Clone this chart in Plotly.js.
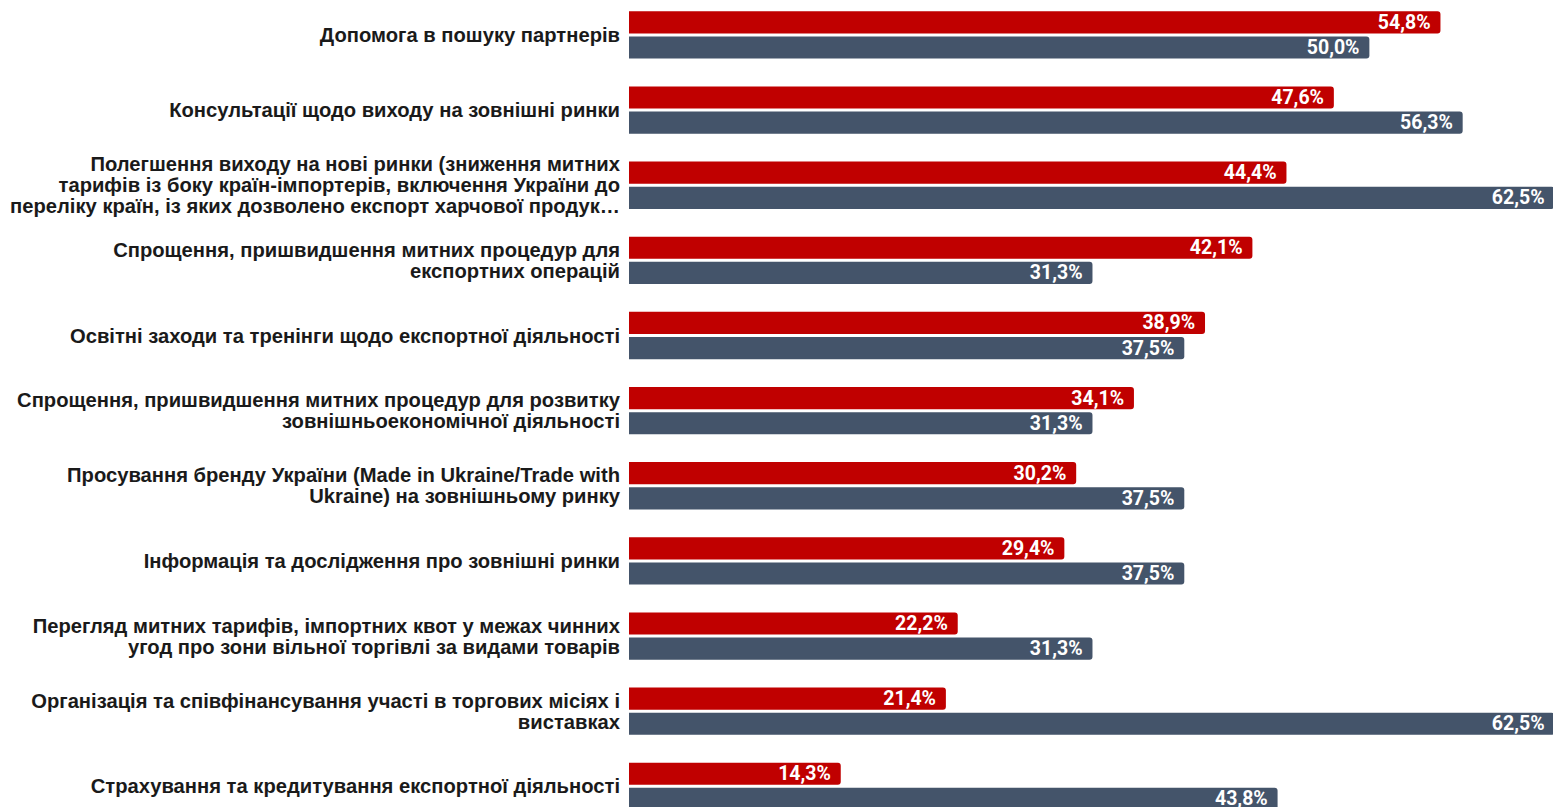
<!DOCTYPE html>
<html>
<head>
<meta charset="utf-8">
<script src="https://cdn.plot.ly/plotly-3.0.1.min.js"></script>
<style>html,body{margin:0;padding:0;background:#fff;overflow:hidden}#chart{width:1553px;height:807px}</style>
</head>
<body>
<div id="chart"></div>
<script>
const categories = [
  "Допомога в пошуку партнерів",
  "Консультації щодо виходу на зовнішні ринки",
  "Полегшення виходу на нові ринки (зниження митних<br>тарифів із боку країн-імпортерів, включення України до<br>переліку країн, із яких дозволено експорт харчової продук…",
  "Спрощення, пришвидшення митних процедур для<br>експортних операцій",
  "Освітні заходи та тренінги щодо експортної діяльності",
  "Спрощення, пришвидшення митних процедур для розвитку<br>зовнішньоекономічної діяльності",
  "Просування бренду України (Made in Ukraine/Trade with<br>Ukraine) на зовнішньому ринку",
  "Інформація та дослідження про зовнішні ринки",
  "Перегляд митних тарифів, імпортних квот у межах чинних<br>угод про зони вільної торгівлі за видами товарів",
  "Організація та співфінансування участі в торгових місіях і<br>виставках",
  "Страхування та кредитування експортної діяльності"
];
const seriesA = [54.8, 47.6, 44.4, 42.1, 38.9, 34.1, 30.2, 29.4, 22.2, 21.4, 14.3];
const seriesB = [50.0, 56.3, 62.5, 31.3, 37.5, 31.3, 37.5, 37.5, 31.3, 62.5, 43.8];
const seriesNames = ["Серія 1", "Серія 2"];

function fmt(v){ return v.toFixed(1).replace('.', ',') + '%\u00a0\u200a'; }

const common = {
  type: 'bar', orientation: 'h', y: categories,
  textposition: 'inside', insidetextanchor: 'end', constraintext: 'none',
  textfont: {family: 'Roboto', size: 19.5, color: '#ffffff', weight: 'bold'},
  hoverinfo: 'x+y', cliponaxis: true
};

const traces = [
  Object.assign({}, common, {name: seriesNames[0], x: seriesA, text: seriesA.map(fmt), marker: {color: '#C00000'}}),
  Object.assign({}, common, {name: seriesNames[1], x: seriesB, text: seriesB.map(fmt), marker: {color: '#44546A'}})
];

const layout = {
  width: 1553, height: 807,
  margin: {l: 629, r: 0, t: 0, b: 0, pad: 0},
  barmode: 'group', bargap: 0.33, bargroupgap: 0.12, barcornerradius: 3,
  showlegend: false,
  paper_bgcolor: '#ffffff', plot_bgcolor: '#ffffff',
  xaxis: {range: [0, 62.4], visible: false, fixedrange: true},
  yaxis: {
    type: 'category', range: [10.275, -0.465],
    showgrid: false, zeroline: false, showline: false, ticks: '',
    ticklabelstandoff: 8,
    tickfont: {family: 'Liberation Sans', size: 20.2, color: '#1a1a1a', weight: 'bold'}
  }
};

function tightenLines(lineGap){
  document.querySelectorAll('#chart .ytick text').forEach(function(t){
    const lines = Array.from(t.querySelectorAll('tspan.line'));
    if (lines.length < 2) return;
    const fs = parseFloat(getComputedStyle(t).fontSize) || 20;
    const base = lines.map(l => l.getStartPositionOfChar(0).y);
    const center = (base[0] + base[base.length - 1]) / 2;
    const n = lines.length;
    lines.forEach(function(l, k){
      const target = center + (k - (n - 1) / 2) * lineGap;
      const cur = l.getStartPositionOfChar(0).y;
      const a = l.getAttribute('dy') || '0';
      let dyPx = parseFloat(a) || 0;
      if (/em$/.test(a)) dyPx *= fs;
      l.setAttribute('dy', (dyPx + target - cur) + 'px');
    });
  });
}

Plotly.newPlot('chart', traces, layout, {displayModeBar: false, staticPlot: true}).then(function(){
  tightenLines(21);
});
</script>
</body>
</html>
